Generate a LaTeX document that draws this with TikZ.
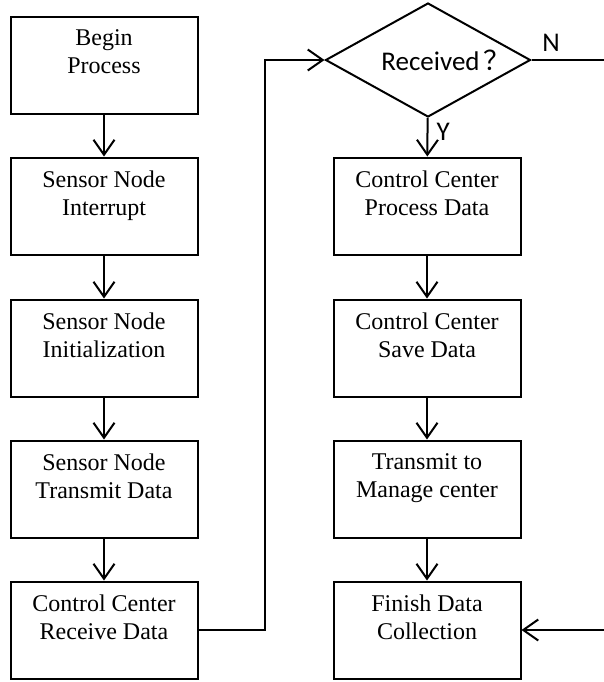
\documentclass[tikz,border=0pt]{standalone}
\usepackage{fontspec}
\setmainfont{Liberation Serif}
\newfontfamily\calibri{Carlito}
\newfontfamily\cjk{Noto Sans CJK SC}
\usetikzlibrary{arrows.meta,shapes.geometric}
\begin{document}
\begin{tikzpicture}[x=0.5pt,y=-0.5pt]
\fontsize{12}{14}\selectfont
\useasboundingbox (0,0) rectangle (604,682);
\begin{scope}[->,line width=1pt,
              >={Straight Barb[length=7.5pt,width=10.5pt]},
              block1/.style={rectangle,draw,align=center,minimum width=93.5pt,
                             minimum height=48.5pt,text depth=13pt},
              block2/.style={diamond,draw,inner sep=0pt,aspect=1.8,minimum width=102.5pt,
                             minimum height=57pt,font=\calibri\fontsize{13.5}{16}\selectfont}]
    \node [block1] (1) at (104,65) {Begin \\ Process};
    \node [block1] (2) at (104,206) {Sensor Node \\ Interrupt};
    \node [block1] (3) at (104,348) {Sensor Node \\ Initialization};
    \node [block1] (4) at (104,489) {Sensor Node \\ Transmit Data};
    \node [block1] (5) at (104,630) {Control Center \\ Receive Data};
    \node [block2] (6) at (428,60) {\hspace{18pt}Received\hspace{2pt}{\cjk ？}};
    \node [block1] (7) at (427,206) {Control Center \\ Process Data};
    \node [block1] (8) at (427,348) {Control Center \\ Save Data};
    \node [block1] (9) at (427,489) {Transmit to \\ Manage center};
    \node [block1] (10) at (427,630) {Finish Data \\ Collection};
    \coordinate (t) at (265,60);
    \coordinate (n) at (604,60);
    \coordinate (b) at (604,630);
    \path (1) edge (2);
    \path (2) edge (3);
    \path (3) edge (4);
    \path (4) edge (5);
    \draw (5.east) -| (t) -- (6.west);
    \path (6) edge node [right,pos=0.35,font=\calibri\fontsize{13.5}{16}\selectfont] {Y} (7);
    \path (7) edge (8);
    \path (8) edge (9);
    \path (9) edge (10);
    \draw [-] (6.east) -- node [above,font=\calibri\fontsize{13.5}{16}\selectfont,
                                pos=0.27] {N} (n);
    \draw (b) -- (10.east);
\end{scope}
\end{tikzpicture}
\end{document}
